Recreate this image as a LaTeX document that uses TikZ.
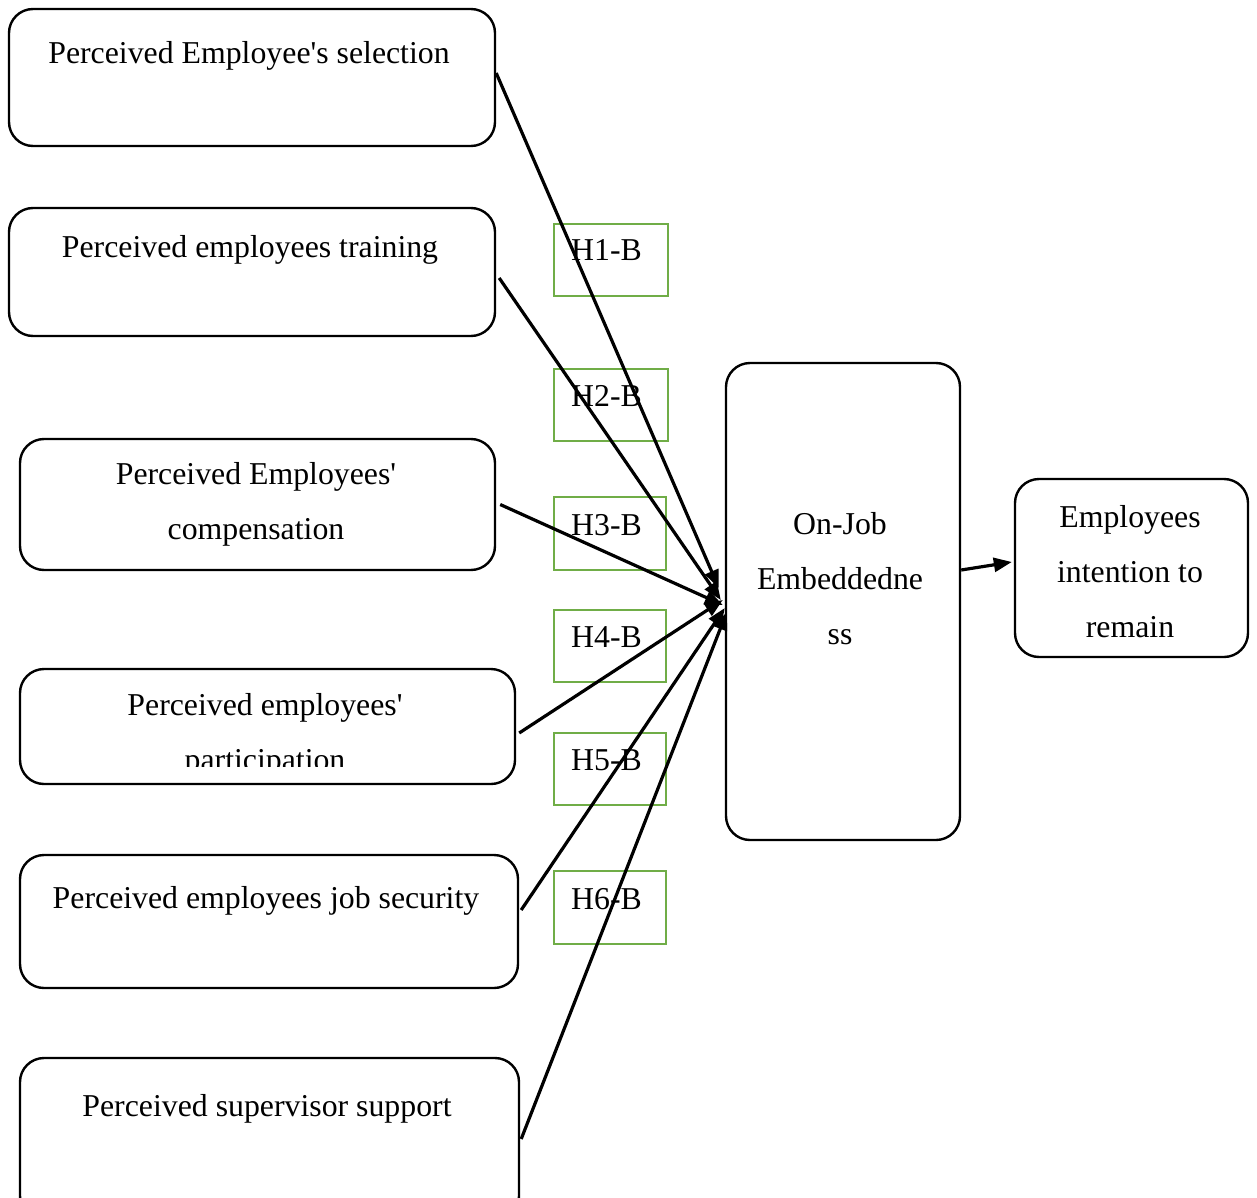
\documentclass[tikz,border=0pt]{standalone}
\usepackage{fontspec}
\setmainfont{Liberation Serif}[Ligatures=TeXOff]
\usetikzlibrary{arrows.meta}
\definecolor{hypgreen}{RGB}{112,173,71}
\tikzset{
  varbox/.style={draw=black, line width=2.4pt, rounded corners=24pt, inner sep=0pt, anchor=center},
  hypbox/.style={draw=hypgreen, line width=1.6pt, inner sep=0pt, anchor=center},
  lbl/.style={font=\fontsize{31.8}{55}\selectfont, align=center, anchor=base, inner sep=0pt},
  hyplbl/.style={font=\fontsize{31.8}{35}\selectfont, anchor=base west, inner sep=0pt},
  link/.style={line width=3.2pt, -{Triangle[length=18pt,width=14pt]}},
}
\begin{document}
\begin{tikzpicture}[x=1pt, y=-1pt]
\clip (0,0) rectangle (1257,1198);
\fill[white] (0,0) rectangle (1257,1198);

% predictor boxes (multi-line labels are placed by their last baseline)
\node[varbox, minimum width=486pt, minimum height=137pt] (sel) at (252,77.5) {};
\node[lbl] (selt) at (249,64) {Perceived Employee's selection};

\node[varbox, minimum width=486pt, minimum height=128pt] (train) at (252,272) {};
\node[lbl] (traint) at (250,258) {Perceived employees training};

\node[varbox, minimum width=475pt, minimum height=131pt] (comp) at (257.5,504.5) {};
\node[lbl] (compt) at (256,539) {Perceived Employees'\\compensation};

\node[varbox, minimum width=495pt, minimum height=115pt] (part) at (267.5,726.5) {};
\begin{scope}
  \clip (20,669) rectangle (515,766);
  \node[lbl] (partt) at (265,770) {Perceived employees'\\participation};
\end{scope}

\node[varbox, minimum width=498pt, minimum height=133pt] (sec) at (269,921.5) {};
\node[lbl] (sect) at (266,908) {Perceived employees job security};

\node[varbox, minimum width=499pt, minimum height=162pt] (sup) at (269.5,1139) {};
\node[lbl] (supt) at (267,1116) {Perceived supervisor support};

% mediator and outcome
\node[varbox, minimum width=234pt, minimum height=477pt] (emb) at (843,601.5) {};
\node[lbl] (embt) at (840,644) {On-Job\\Embeddedne\\ss};

\node[varbox, minimum width=233pt, minimum height=178pt] (rem) at (1131.5,568) {};
\node[lbl] (remt) at (1130,637) {Employees\\intention to\\remain};

% hypothesis labels
\node[hypbox, minimum width=114pt, minimum height=72pt] (h1) at (611,260) {};
\node[hypbox, minimum width=114pt, minimum height=72pt] (h2) at (611,405) {};
\node[hypbox, minimum width=112pt, minimum height=73pt] (h3) at (610,533.5) {};
\node[hypbox, minimum width=112pt, minimum height=72pt] (h4) at (610,646) {};
\node[hypbox, minimum width=112pt, minimum height=72pt] (h5) at (610,769) {};
\node[hypbox, minimum width=112pt, minimum height=73pt] (h6) at (610,907.5) {};
\node[hyplbl] (h1t) at (571,261) {H1-B};
\node[hyplbl] (h2t) at (571,406) {H2-B};
\node[hyplbl] (h3t) at (571,535) {H3-B};
\node[hyplbl] (h4t) at (571,647) {H4-B};
\node[hyplbl] (h5t) at (571,770) {H5-B};
\node[hyplbl] (h6t) at (571,909) {H6-B};

% paths into embeddedness
\draw[link] ([yshift=4.5pt]sel.east) -- ([xshift=-6pt,yshift=13.5pt]emb.west);
\draw[link] ([xshift=3pt,yshift=-6pt]train.east) -- ([xshift=-4pt,yshift=1.5pt]emb.west);
\draw[link] ([xshift=4pt]comp.east) -- ([xshift=-2pt,yshift=-3.5pt]emb.west);
\draw[link] ([xshift=3pt,yshift=-6.5pt]part.east) -- ([xshift=-2pt,yshift=1.5pt]emb.west);
\draw[link] ([xshift=2pt,yshift=11.5pt]sec.east) -- ([yshift=-6.5pt]emb.west);
\draw[link] ([xshift=1pt]sup.east) -- ([xshift=2pt,yshift=-10.5pt]emb.west);

% embeddedness to intention
\draw[link] ([yshift=31.5pt]emb.east) -- ([xshift=-2pt,yshift=6pt]rem.west);
\end{tikzpicture}
\end{document}
